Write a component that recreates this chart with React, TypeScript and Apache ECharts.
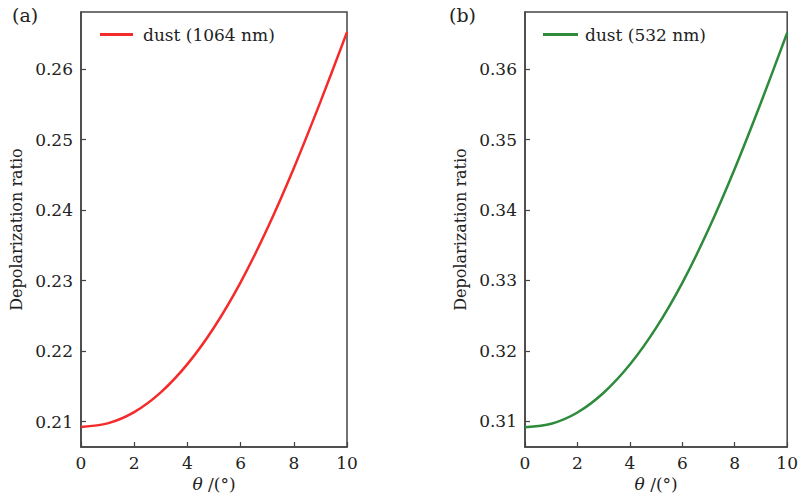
import React, { useEffect, useRef } from "react";
import * as echarts from "echarts";

const theta = [0, 1, 2, 3, 4, 5, 6, 7, 8, 9, 10];
const dust1064 = [0.20925, 0.20975, 0.21135, 0.21415, 0.21815, 0.22335, 0.22975, 0.23735, 0.24595, 0.25535, 0.26525];
const dust532 = [0.30915, 0.30965, 0.31125, 0.31405, 0.31805, 0.32325, 0.32965, 0.33725, 0.34585, 0.35525, 0.36515];
const xTicks = [0, 2, 4, 6, 8, 10];
const panelLabels = ["(a)", "(b)"];
const seriesNames = ["dust (1064 nm)", "dust (532 nm)"];

const FONT = "DejaVu Serif";

export default function App() {
  const ref = useRef<HTMLDivElement>(null);
  useEffect(() => {
    if (!ref.current) return;
    const chart = echarts.init(ref.current, null, { renderer: "svg" });
    const mkX = (gi: number) => ({
      type: "value",
      gridIndex: gi,
      min: 0,
      max: 10,
      interval: 2,
      name: "{i|θ} /(°)",
      nameLocation: "middle",
      nameGap: 25,
      nameTextStyle: {
        fontFamily: FONT,
        fontSize: 17,
        color: "#222",
        rich: {
          i: { fontFamily: FONT, fontStyle: "italic", fontSize: 17, color: "#222" },
        },
      },
      axisLine: { show: true, lineStyle: { color: "#444", width: 1.5 } },
      axisTick: { show: true, inside: true, length: 5, lineStyle: { color: "#444", width: 1.2 } },
      axisLabel: {
        fontFamily: FONT,
        fontSize: 17,
        color: "#222",
        margin: 7,
        formatter: (v: number) => (xTicks.includes(v) ? String(v) : ""),
      },
      splitLine: { show: false },
    });
    const mkY = (gi: number, min: number, max: number) => ({
      type: "value",
      gridIndex: gi,
      min,
      max,
      splitNumber: 6,
      name: "Depolarization ratio",
      nameLocation: "middle",
      nameGap: 57,
      nameTextStyle: { fontFamily: FONT, fontSize: 16, color: "#222" },
      axisLine: { show: true, lineStyle: { color: "#444", width: 1.5 } },
      axisTick: { show: true, inside: true, length: 5, lineStyle: { color: "#444", width: 1.2 } },
      axisLabel: {
        fontFamily: FONT,
        fontSize: 17,
        color: "#222",
        margin: 8,
        showMinLabel: false,
        showMaxLabel: false,
        formatter: (v: number) => v.toFixed(2),
      },
      splitLine: { show: false },
    });
    chart.setOption({
      animation: false,
      backgroundColor: "#fff",
      grid: [
        { left: 81, right: 454, top: 12, bottom: 51, show: true, borderColor: "#444", borderWidth: 1.5 },
        { left: 525, right: 10, top: 12, bottom: 51, show: true, borderColor: "#444", borderWidth: 1.5 },
      ],
      xAxis: [mkX(0), mkX(1)],
      yAxis: [mkY(0, 0.2064, 0.2681), mkY(1, 0.30635, 0.3681)],
      legend: [
        {
          data: [seriesNames[0]],
          left: 95,
          top: 21,
          icon: "rect",
          itemWidth: 33,
          itemHeight: 3,
          textStyle: { fontFamily: FONT, fontSize: 17, color: "#222", padding: [0, 0, 0, 5] },
        },
        {
          data: [seriesNames[1]],
          left: 538,
          top: 21,
          icon: "rect",
          itemWidth: 35,
          itemHeight: 3,
          textStyle: { fontFamily: FONT, fontSize: 17, color: "#222", padding: [0, 0, 0, 2] },
        },
      ],
      graphic: [
        { type: "text", left: 12, top: 5, style: { text: panelLabels[0], fontFamily: FONT, fontSize: 19, fill: "#222" } },
        { type: "text", left: 449, top: 5, style: { text: panelLabels[1], fontFamily: FONT, fontSize: 19, fill: "#222" } },
      ],
      series: [
        {
          name: seriesNames[0],
          type: "line",
          xAxisIndex: 0,
          yAxisIndex: 0,
          data: theta.map((t, i) => [t, dust1064[i]]),
          smooth: 0.3,
          showSymbol: false,
          lineStyle: { color: "#f52a2a", width: 2.5 },
          itemStyle: { color: "#f52a2a" },
        },
        {
          name: seriesNames[1],
          type: "line",
          xAxisIndex: 1,
          yAxisIndex: 1,
          data: theta.map((t, i) => [t, dust532[i]]),
          smooth: 0.3,
          showSymbol: false,
          lineStyle: { color: "#2e8b3c", width: 2.5 },
          itemStyle: { color: "#2e8b3c" },
        },
      ],
    });
    return () => chart.dispose();
  }, []);
  return <div ref={ref} style={{ width: 801, height: 498, position: "absolute", left: 0, top: 0 }} />;
}
